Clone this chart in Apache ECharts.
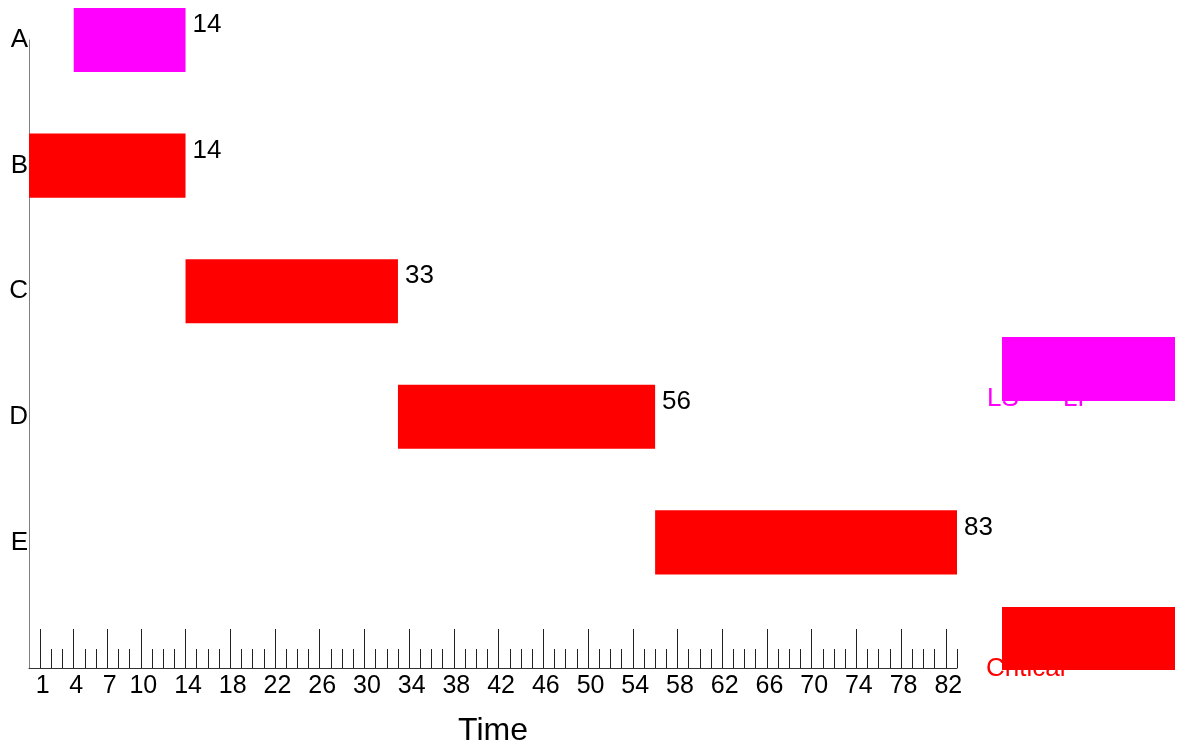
<!DOCTYPE html>
<html>
<head>
<meta charset="utf-8">
<script src="https://cdn.jsdelivr.net/npm/echarts@6/dist/echarts.min.js"></script>
<style>html,body{margin:0;padding:0;background:#fff;}#c{width:1180px;height:747px;}</style>
</head>
<body>
<div id="c"></div>
<script>
const tasks = ['A', 'B', 'C', 'D', 'E'];
const startTimes = [4, 0, 14, 33, 56];
const endTimes = [14, 14, 33, 56, 83];
const critical = [false, true, true, true, true];
const majorTicks = [1, 4, 7, 10, 14, 18, 22, 26, 30, 34, 38, 42, 46, 50, 54, 58, 62, 66, 70, 74, 78, 82];
const minorTicks = [];
for (let i = 1; i <= 83; i++) minorTicks.push(i);

const FONT = 'Liberation Sans, Arial, Helvetica, sans-serif';
const MAGENTA = '#ff00ff', RED = '#ff0000';

const data = tasks.map((t, i) => [t, startTimes[i], endTimes[i], critical[i] ? 1 : 0]);

const chart = echarts.init(document.getElementById('c'));
chart.setOption({
  animation: false,
  backgroundColor: '#fff',
  grid: { left: 29, right: 223, top: 40, bottom: 79, containLabel: false, outerBoundsMode: 'none' },
  xAxis: [{
    type: 'value', min: 0, max: 83,
    name: 'Time', nameLocation: 'middle', nameGap: 47,
    nameTextStyle: { fontFamily: FONT, fontSize: 32, color: '#000' },
    axisLine: { show: true, lineStyle: { color: '#333', width: 1 } },
    axisTick: { show: true, inside: true, length: 39, customValues: majorTicks, lineStyle: { color: '#222', width: 1 } },
    axisLabel: { customValues: majorTicks, fontFamily: FONT, fontSize: 25, color: '#000', margin: 6, padding: [0, 0, 0, 5] },
    splitLine: { show: false }
  }, {
    type: 'value', min: 0, max: 83, position: 'bottom', gridIndex: 0,
    axisLine: { show: false },
    axisTick: { show: true, inside: true, length: 19, customValues: minorTicks, lineStyle: { color: '#222', width: 1 } },
    axisLabel: { show: false },
    splitLine: { show: false }
  }],
  yAxis: {
    type: 'category', inverse: true, boundaryGap: false,
    data: tasks.concat(['']),
    axisLine: { show: true, lineStyle: { color: '#808080', width: 1 } },
    axisTick: { show: false },
    axisLabel: { fontFamily: FONT, fontSize: 26, color: '#000', margin: 1, padding: [3, 0, 0, 0] },
    splitLine: { show: false }
  },
  series: [{
    type: 'custom',
    clip: false,
    encode: { x: [1, 2], y: 0 },
    data: data,
    renderItem: function (params, api) {
      const cat = api.value(0);
      const s = api.value(1), e = api.value(2), crit = api.value(3);
      const p0 = api.coord([s, cat]);
      const p1 = api.coord([e, cat]);
      const h = api.size([0, 1])[1] * 0.51;
      const top = p0[1] - h / 2;
      return {
        type: 'group',
        children: [{
          type: 'rect',
          shape: { x: p0[0], y: top, width: p1[0] - p0[0], height: h },
          style: { fill: crit ? RED : MAGENTA }
        }, {
          type: 'text',
          style: { text: String(e), x: p1[0] + 7, y: top + 17, verticalAlign: 'middle', align: 'left',
                   font: '26px ' + FONT, fill: '#000' }
        }]
      };
    }
  }],
  graphic: [
    { type: 'text', z: 10, style: { text: 'LS', x: 987, y: 399, verticalAlign: 'middle', font: '26px ' + FONT, fill: MAGENTA } },
    { type: 'text', z: 10, style: { text: 'LF', x: 1063, y: 399, verticalAlign: 'middle', font: '26px ' + FONT, fill: MAGENTA } },
    { type: 'rect', z: 11, shape: { x: 1002, y: 337, width: 173, height: 64 }, style: { fill: MAGENTA } },
    { type: 'text', z: 10, style: { text: 'Critical', x: 986, y: 669, verticalAlign: 'middle', font: '26px ' + FONT, fill: RED } },
    { type: 'rect', z: 11, shape: { x: 1002, y: 607, width: 173, height: 63 }, style: { fill: RED } }
  ]
});
</script>
</body>
</html>
